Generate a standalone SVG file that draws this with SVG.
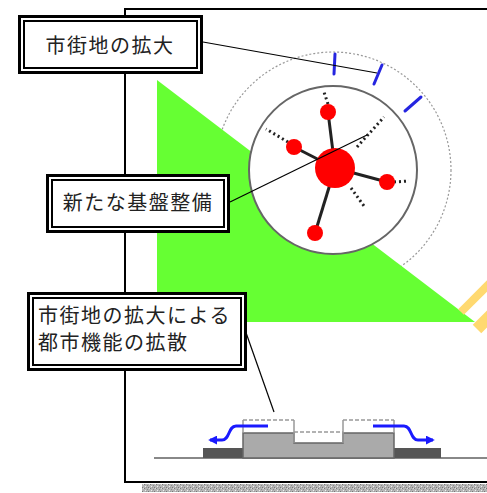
<svg xmlns="http://www.w3.org/2000/svg" width="487" height="493" viewBox="0 0 487 493">
  <defs>
    <style>
      .label { font-family: "Noto Sans CJK JP", "Noto Sans", sans-serif; font-size: 20px; fill: #222; letter-spacing: 1.5px; }
      .boxOuter { fill: #fff; stroke: #000; stroke-width: 3; }
      .boxInner { fill: none; stroke: #000; stroke-width: 2; }
      .leader { stroke: #000; stroke-width: 1.2; fill: none; }
      .frame { stroke: #000; stroke-width: 2; fill: none; }
      .link { stroke: #222; stroke-width: 3; }
      .dots { stroke: #222; stroke-width: 3; stroke-dasharray: 2 3; }
      .node { fill: #f00; }
      .tick { stroke: #2525e0; stroke-width: 3; stroke-linecap: round; }
      .flow { stroke: #1a1aff; stroke-width: 3; fill: none; }
      .future { stroke: #999; stroke-width: 1.5; fill: none; }
      .futureTop { stroke: #999; stroke-width: 1.5; stroke-dasharray: 4 2; fill: none; }
    </style>
    <pattern id="grain" width="6" height="4" patternUnits="userSpaceOnUse">
      <rect width="6" height="4" fill="#b4b4b4"/>
      <rect x="0" y="0" width="1" height="1" fill="#777"/>
      <rect x="3" y="1" width="1" height="1" fill="#888"/>
      <rect x="1" y="2" width="1" height="1" fill="#eee"/>
      <rect x="4" y="3" width="1" height="1" fill="#777"/>
      <rect x="5" y="0" width="1" height="1" fill="#ddd"/>
      <rect x="2" y="3" width="1" height="1" fill="#999"/>
    </pattern>
    <marker id="flowHead" viewBox="0 0 10 10" refX="8" refY="5" markerWidth="3" markerHeight="3" orient="auto-start-reverse">
      <path d="M0,0 L10,5 L0,10 Z" fill="#1a1aff"/>
    </marker>
  </defs>

  <rect width="487" height="493" fill="#fff"/>

  <!-- panel frame and drop shadow -->
  <rect x="142" y="484" width="345" height="8" fill="url(#grain)"/>
  <path class="frame" d="M489,9 H125 V482 H489"/>

  <!-- outer dotted ring (expanding area) -->
  <circle cx="333" cy="170" r="118" fill="none" stroke="#999" stroke-width="1.2" stroke-dasharray="2 2"/>

  <!-- green triangle -->
  <polygon points="157,80 157,322 475,322" fill="#66ff33"/>

  <!-- yellow stripes -->
  <line x1="461" y1="312" x2="492" y2="281" stroke="#ffd970" stroke-width="8"/>
  <line x1="477" y1="329" x2="497" y2="309" stroke="#ffd970" stroke-width="12"/>

  <!-- inner ring -->
  <circle cx="333" cy="170" r="84" fill="#fff" stroke="#666" stroke-width="2"/>

  <!-- blue ticks on the outer ring -->
  <g id="ticks">
    <line class="tick" x1="335" y1="54" x2="334" y2="74"/>
    <line class="tick" x1="382" y1="65" x2="374" y2="84"/>
    <line class="tick" x1="421" y1="97" x2="405" y2="111"/>
  </g>

  <!-- network of base facilities -->
  <g id="network">
    <line class="dots" x1="328" y1="104" x2="324" y2="92"/>
    <line class="dots" x1="288" y1="142" x2="266" y2="129"/>
    <line class="dots" x1="394" y1="182" x2="409" y2="181"/>
    <line class="dots" x1="357" y1="147" x2="384" y2="117"/>
    <line class="dots" x1="351" y1="188" x2="364" y2="206"/>
    <line class="link" x1="335" y1="168" x2="328" y2="112"/>
    <line class="link" x1="335" y1="168" x2="294" y2="147"/>
    <line class="link" x1="335" y1="168" x2="387" y2="182"/>
    <line class="link" x1="335" y1="168" x2="315" y2="233"/>
    <circle class="node" cx="335" cy="168" r="20"/>
    <circle class="node" cx="328" cy="112" r="8"/>
    <circle class="node" cx="294" cy="147" r="8"/>
    <circle class="node" cx="387" cy="182" r="8"/>
    <circle class="node" cx="315" cy="233" r="8"/>
  </g>

  <!-- cross-section of the urban area -->
  <g id="section">
    <line x1="154" y1="458" x2="487" y2="458" stroke="#888" stroke-width="2"/>
    <rect x="203" y="448" width="40" height="10" fill="#555"/>
    <rect x="394" y="448" width="47" height="10" fill="#555"/>
    <path d="M243,458 V433 H294 V443 H343 V433 H394 V458 Z" fill="#aaa" stroke="#666" stroke-width="1.5"/>
    <path class="future" d="M243,433 V420 M294,420 V443 M343,420 V443 M394,433 V420"/>
    <path class="futureTop" d="M243,420 H294 M294,432 H343 M343,420 H394"/>
    <path class="flow" d="M268,426 H236 C228,426 230,440 222,440 H210" marker-end="url(#flowHead)"/>
    <path class="flow" d="M373,426 H404 C412,426 410,440 418,440 H433" marker-end="url(#flowHead)"/>
  </g>

  <!-- leader lines -->
  <g id="connectors">
    <line class="leader" x1="203" y1="42" x2="377" y2="73"/>
    <line class="leader" x1="230" y1="202" x2="367" y2="135"/>
    <line class="leader" x1="244" y1="327" x2="274" y2="412"/>
  </g>

  <!-- labels -->
  <g id="label-expansion">
    <rect class="boxOuter" x="19.5" y="16.5" width="182" height="56"/>
    <rect class="boxInner" x="24" y="21" width="173" height="47"/>
    <text class="label" x="110" y="53" text-anchor="middle">市街地の拡大</text>
  </g>
  <g id="label-infrastructure">
    <rect class="boxOuter" x="47.5" y="175.5" width="181" height="56"/>
    <rect class="boxInner" x="52" y="180" width="172" height="47"/>
    <text class="label" x="138" y="210" text-anchor="middle">新たな基盤整備</text>
  </g>
  <g id="label-dispersion">
    <rect class="boxOuter" x="28.5" y="293.5" width="217" height="76"/>
    <rect class="boxInner" x="33" y="298" width="208" height="67"/>
    <text class="label" x="38" y="323">市街地の拡大による</text>
    <text class="label" x="38" y="350">都市機能の拡散</text>
  </g>
</svg>
